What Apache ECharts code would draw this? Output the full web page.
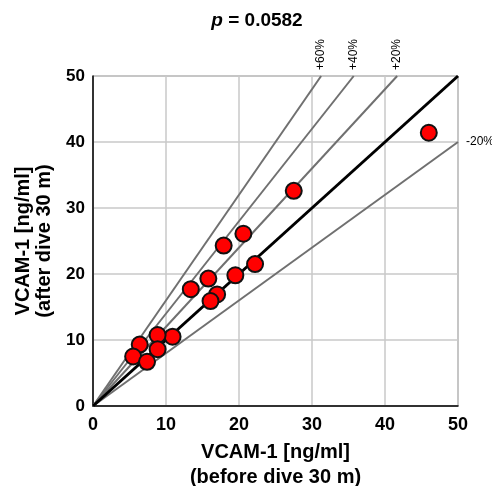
<!DOCTYPE html>
<html><head><meta charset="utf-8">
<script src="https://cdn.jsdelivr.net/npm/echarts@6/dist/echarts.min.js"></script>
<style>html,body{margin:0;padding:0;background:#fff}#c{width:492px;height:486px}</style>
</head><body><div id="c"></div>
<script>
var before = [46.0, 27.5, 20.6, 17.9, 22.2, 19.5, 15.8, 13.4, 17.0, 16.1, 10.9, 8.85, 6.4, 8.85, 5.5, 7.4];
var after  = [41.4, 32.6, 26.1, 24.3, 21.5, 19.8, 19.3, 17.7, 16.9, 15.9, 10.5, 10.75, 9.3, 8.6, 7.5, 6.7];
var refSlopes = [1.6, 1.4, 1.2, 0.8];
var refLabels = ['+60%', '+40%', '+20%', '-20%'];
var xTicks = [0, 10, 20, 30, 40, 50];
var yTicks = [0, 10, 20, 30, 40, 50];
var axisMax = 50;
var FONT = '"Liberation Sans", Arial, sans-serif';

var points = before.map(function (b, i) { return [b, after[i]]; });
var series = [];
refSlopes.forEach(function (s, i) {
  var end = s > 1 ? [axisMax / s, axisMax] : [axisMax, axisMax * s];
  series.push({
    type: 'line', data: [[0, 0], end], symbol: 'none', silent: true,
    lineStyle: { color: '#707070', width: 2 }, z: 2,
    markPoint: {
      symbol: 'circle', symbolSize: 0,
      data: [{ coord: end }],
      label: s > 1 ? {
        show: true, formatter: refLabels[i], rotate: 90, position: 'top', distance: 6,
        align: 'left', verticalAlign: 'middle', color: '#000', fontSize: 12, fontFamily: FONT
      } : {
        show: true, formatter: refLabels[i], position: 'right', distance: 8,
        color: '#000', fontSize: 12, fontFamily: FONT
      }
    }
  });
});
series.push({
  type: 'line', data: [[0, 0], [axisMax, axisMax]], symbol: 'none', silent: true,
  lineStyle: { color: '#000', width: 3 }, z: 3
});
series.push({
  type: 'scatter', data: points, symbolSize: 16, z: 5,
  itemStyle: { color: '#ff0000', borderColor: '#111', borderWidth: 2, opacity: 1 }
});

var chart = echarts.init(document.getElementById('c'));
chart.setOption({
  animation: false,
  title: {
    text: '{i|p} = 0.0582', left: 252, textAlign: 'center', top: 6,
    textStyle: {
      fontSize: 19, fontWeight: 'bold', fontFamily: FONT, color: '#000',
      rich: { i: { fontStyle: 'italic', fontWeight: 'bold', fontSize: 19, fontFamily: FONT } }
    }
  },
  grid: { left: 93, right: 34, top: 76, bottom: 80, show: true, borderColor: '#808080', borderWidth: 1, outerBoundsMode: 'none', containLabel: false },
  xAxis: {
    type: 'value', min: 0, max: axisMax, interval: xTicks[1] - xTicks[0],
    name: 'VCAM-1 [ng/ml]\n(before dive 30 m)', nameLocation: 'middle', nameGap: 34,
    nameTextStyle: { fontSize: 20, fontWeight: 'bold', fontFamily: FONT, color: '#000', lineHeight: 25 },
    axisLine: { lineStyle: { color: '#000', width: 1.5 } },
    axisTick: { show: false },
    axisLabel: { fontSize: 18, fontWeight: 'bold', fontFamily: FONT, color: '#000', margin: 10 },
    splitLine: { lineStyle: { color: '#c8c8c8', width: 1.5 } }
  },
  yAxis: {
    type: 'value', min: 0, max: axisMax, interval: yTicks[1] - yTicks[0],
    name: 'VCAM-1 [ng/ml]\n(after dive 30 m)', nameLocation: 'middle', nameGap: 29,
    nameTextStyle: { fontSize: 20, fontWeight: 'bold', fontFamily: FONT, color: '#000', lineHeight: 21 },
    axisLine: { lineStyle: { color: '#000', width: 1.5 } },
    axisTick: { show: false },
    axisLabel: { fontSize: 17, fontWeight: 'bold', fontFamily: FONT, color: '#000', margin: 8 },
    splitLine: { lineStyle: { color: '#c8c8c8', width: 1.5 } }
  },
  series: series
});
</script></body></html>
